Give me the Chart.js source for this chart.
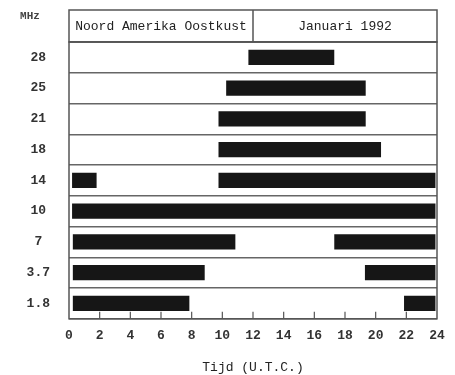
<!DOCTYPE html>
<html>
<head>
<meta charset="utf-8">
<script src="https://cdn.jsdelivr.net/npm/chart.js@4"></script>
<style>
  html, body { margin: 0; padding: 0; background: #fff; }
</style>
</head>
<body>
<canvas id="canvas-prop" width="455" height="375"></canvas>
<script>
// propagatie-tabel: openingstijden per band (uur UTC)
const banden = ['28', '25', '21', '18', '14', '10', '7', '3.7', '1.8'];
const blok1 = [[11.7, 17.3], [10.25, 19.35], [9.75, 19.35], [9.75, 20.35], [0.2, 1.8], [0.2, 23.9], [0.25, 10.85], [0.25, 8.85], [0.25, 7.85]];
const blok2 = [null, null, null, null, [9.75, 23.9], null, [17.3, 23.9], [19.3, 23.9], [21.85, 23.9]];
const uurTicks = [0, 2, 4, 6, 8, 10, 12, 14, 16, 18, 20, 22, 24];
const titelLinks = 'Noord Amerika Oostkust';
const titelRechts = 'Januari 1992';
const eenheid = 'MHz';
const asTitel = 'Tijd (U.T.C.)';

const MONO = "'Liberation Mono', 'DejaVu Sans Mono', monospace";
const ZWART = '#161616';

// kader, kop en tickstreepjes binnen het plot
const kaderPlugin = {
  id: 'kader',
  afterDraw(chart) {
    const ctx = chart.ctx;
    const a = chart.chartArea;
    const xs = chart.scales.x;
    ctx.save();
    ctx.strokeStyle = '#555';
    ctx.lineWidth = 1.5;
    // kop
    ctx.strokeRect(a.left, 10, a.right - a.left, a.top - 10);
    const deel = xs.getPixelForValue(12);
    ctx.beginPath();
    ctx.moveTo(deel, 10);
    ctx.lineTo(deel, a.top);
    ctx.stroke();
    ctx.fillStyle = '#222';
    ctx.font = '13px ' + MONO;
    ctx.textAlign = 'center';
    ctx.textBaseline = 'middle';
    ctx.fillText(titelLinks, (a.left + deel) / 2, (10 + a.top) / 2 + 1);
    ctx.fillText(titelRechts, (deel + a.right) / 2, (10 + a.top) / 2 + 1);
    // MHz
    ctx.font = 'bold 11px ' + MONO;
    ctx.fillStyle = '#444';
    ctx.fillText(eenheid, 30, 16);
    // plotkader
    ctx.strokeRect(a.left, a.top, a.right - a.left, a.bottom - a.top);
    // tickstreepjes naar binnen
    ctx.lineWidth = 1.2;
    ctx.beginPath();
    uurTicks.forEach(t => {
      if (t === 0 || t === 24) return;
      const px = xs.getPixelForValue(t);
      ctx.moveTo(px, a.bottom);
      ctx.lineTo(px, a.bottom - 7);
    });
    ctx.stroke();
    ctx.restore();
  }
};

new Chart(document.getElementById('canvas-prop'), {
  type: 'bar',
  data: {
    labels: banden,
    datasets: [
      { data: blok1, backgroundColor: ZWART, borderWidth: 0, grouped: false },
      { data: blok2, backgroundColor: ZWART, borderWidth: 0, grouped: false }
    ]
  },
  options: {
    indexAxis: 'y',
    responsive: false,
    animation: false,
    barPercentage: 0.5,
    categoryPercentage: 1,
    layout: { padding: { top: 42, right: 18, left: 0, bottom: 0 } },
    plugins: { legend: { display: false }, tooltip: { enabled: false } },
    scales: {
      x: {
        type: 'linear',
        min: 0,
        max: 24,
        afterBuildTicks: s => { s.ticks = uurTicks.map(v => ({ value: v })); },
        grid: { display: false, drawTicks: false },
        border: { display: false },
        ticks: { padding: 9, color: '#333', font: { family: MONO, size: 13, weight: 'bold' } },
        title: { display: true, text: asTitel, color: '#222', padding: { top: 7, bottom: 0 }, font: { family: MONO, size: 13 } }
      },
      y: {
        afterFit: s => { s.width = 69; },
        grid: { offset: true, drawTicks: false, color: '#666', lineWidth: 1.5 },
        border: { display: false },
        ticks: { padding: 19, crossAlign: 'center', color: '#333', font: { family: MONO, size: 13, weight: 'bold' } }
      }
    }
  },
  plugins: [kaderPlugin]
});
</script>
</body>
</html>
